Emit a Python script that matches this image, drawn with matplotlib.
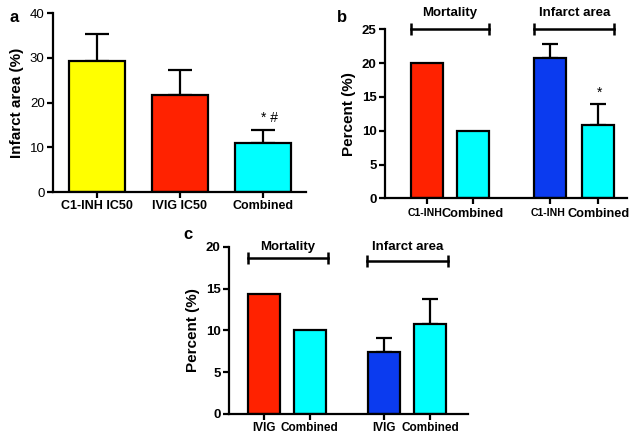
import matplotlib
matplotlib.use("Agg")
import matplotlib.pyplot as plt

plt.rcParams['font.family'] = ['Liberation Sans', 'DejaVu Sans']
plt.rcParams['font.weight'] = 'bold'

# ---- data ----
a_labels = ["C1-INH IC50", "IVIG IC50", "Combined"]
a_values = [29.3, 21.6, 11.0]
a_errors = [5.9, 5.7, 2.9]
a_colors = ["#ffff00", "#ff2200", "#00ffff"]

b_labels = ["C1-INH", "Combined", "C1-INH", "Combined"]
b_values = [20.0, 10.0, 20.7, 10.9]
b_errors = [0.0, 0.0, 2.1, 3.0]
b_colors = ["#ff2200", "#00ffff", "#0b3bef", "#00ffff"]
b_groups = ["Mortality", "Infarct area"]

c_labels = ["IVIG", "Combined", "IVIG", "Combined"]
c_values = [14.3, 10.0, 7.4, 10.8]
c_errors = [0.0, 0.0, 1.7, 3.0]
c_colors = ["#ff2200", "#00ffff", "#0b3bef", "#00ffff"]
c_groups = ["Mortality", "Infarct area"]

W, H = 643, 441
fig = plt.figure(figsize=(W / 100, H / 100), dpi=100)


def axes_px(l, r, t, b):
    return fig.add_axes([l / W, 1 - b / H, (r - l) / W, (b - t) / H])


def style(ax, ylabel, ytick_weight='bold', ytick_size=9.5):
    for s in ['top', 'right']:
        ax.spines[s].set_visible(False)
    for s in ['left', 'bottom']:
        ax.spines[s].set_linewidth(1.6)
    ax.tick_params(axis='both', width=1.6, length=4, pad=2)
    ax.set_ylabel(ylabel, fontsize=11, fontweight='bold', labelpad=4)
    for t in ax.get_yticklabels():
        t.set_fontweight(ytick_weight)
        t.set_fontsize(ytick_size)


def bars(ax, pos, vals, errs, cols, width, capsize):
    ax.bar(pos, vals, width=width, color=cols, edgecolor='black', linewidth=1.6, zorder=2)
    for p, v, e in zip(pos, vals, errs):
        if e > 0:
            ax.errorbar([p], [v], yerr=[[0], [e]], fmt='none', ecolor='black',
                        elinewidth=1.6, capsize=capsize, capthick=1.6, zorder=1)


def bracket(ax, x0, x1, y, label, ty):
    ax.plot([x0, x1], [y, y], color='black', lw=1.8, marker='|', ms=9, mew=1.8,
            clip_on=False, zorder=3)
    ax.text((x0 + x1) / 2, ty, label, ha='center', va='center', fontsize=9.5,
            fontweight='bold', clip_on=False)


# ---- panel a ----
ax = axes_px(53, 306, 13, 192)
pos_a = [0, 1, 2]
bars(ax, pos_a, a_values, a_errors, a_colors, 0.675, 8.5)
ax.set_ylim(0, 40)
ax.set_yticks([0, 10, 20, 30, 40])
ax.set_xlim(-0.53, 2.52)
ax.set_xticks(pos_a)
ax.set_xticklabels(a_labels, fontsize=9, fontweight='bold')
style(ax, "Infarct area (%)", ytick_weight='normal', ytick_size=9.5)
ax.text(2.08, 16.5, "* #", ha='center', va='center', fontsize=10, fontweight='normal')
fig.text(9 / W, 1 - 17 / H, "a", fontsize=12, fontweight='bold', va='center')

# ---- panel b ----
ax = axes_px(385, 627, 29.3, 198.3)
pos_b = [0, 1, 2.7, 3.75]
bars(ax, pos_b, b_values, b_errors, b_colors, 0.70, 5.5)
ax.set_ylim(0, 25)
ax.set_yticks([0, 5, 10, 15, 20, 25])
ax.set_xlim(-0.93, 4.38)
ax.set_xticks(pos_b)
ax.set_xticklabels([""] * len(pos_b))
for p, lab in zip(pos_b, b_labels):
    if lab == "C1-INH":
        # right edge butts against the neighbouring "Combined" label
        ax.annotate(lab, xy=(p, 0), xycoords=('data', 'axes fraction'),
                    xytext=(10.6, -7), textcoords='offset points',
                    ha='right', va='top', fontsize=7.6, fontweight='bold')
    else:
        ax.annotate(lab, xy=(p, 0), xycoords=('data', 'axes fraction'),
                    xytext=(0, -7), textcoords='offset points',
                    ha='center', va='top', fontsize=9.2, fontweight='bold')
style(ax, "Percent (%)")
bracket(ax, -0.35, 1.35, 25, b_groups[0], 27.4)
bracket(ax, 2.35, 4.10, 25, b_groups[1], 27.4)
ax.text(3.77, 15.6, "*", ha='center', va='center', fontsize=10, fontweight='normal')
fig.text(337 / W, 1 - 17 / H, "b", fontsize=12, fontweight='bold', va='center')

# ---- panel c ----
ax = axes_px(229, 468, 246.7, 414)
pos_c = [0, 1, 2.64, 3.65]
bars(ax, pos_c, c_values, c_errors, c_colors, 0.70, 5.8)
ax.set_ylim(0, 20)
ax.set_yticks([0, 5, 10, 15, 20])
ax.set_xlim(-0.77, 4.48)
ax.set_xticks(pos_c)
ax.set_xticklabels(c_labels, fontsize=8.5, fontweight='bold')
style(ax, "Percent (%)")
bracket(ax, -0.35, 1.40, 18.6, c_groups[0], 20.0)
bracket(ax, 2.26, 4.04, 18.3, c_groups[1], 20.0)
fig.text(183 / W, 1 - 235 / H, "c", fontsize=12, fontweight='bold', va='center')

fig.savefig("out.png", dpi=100)
